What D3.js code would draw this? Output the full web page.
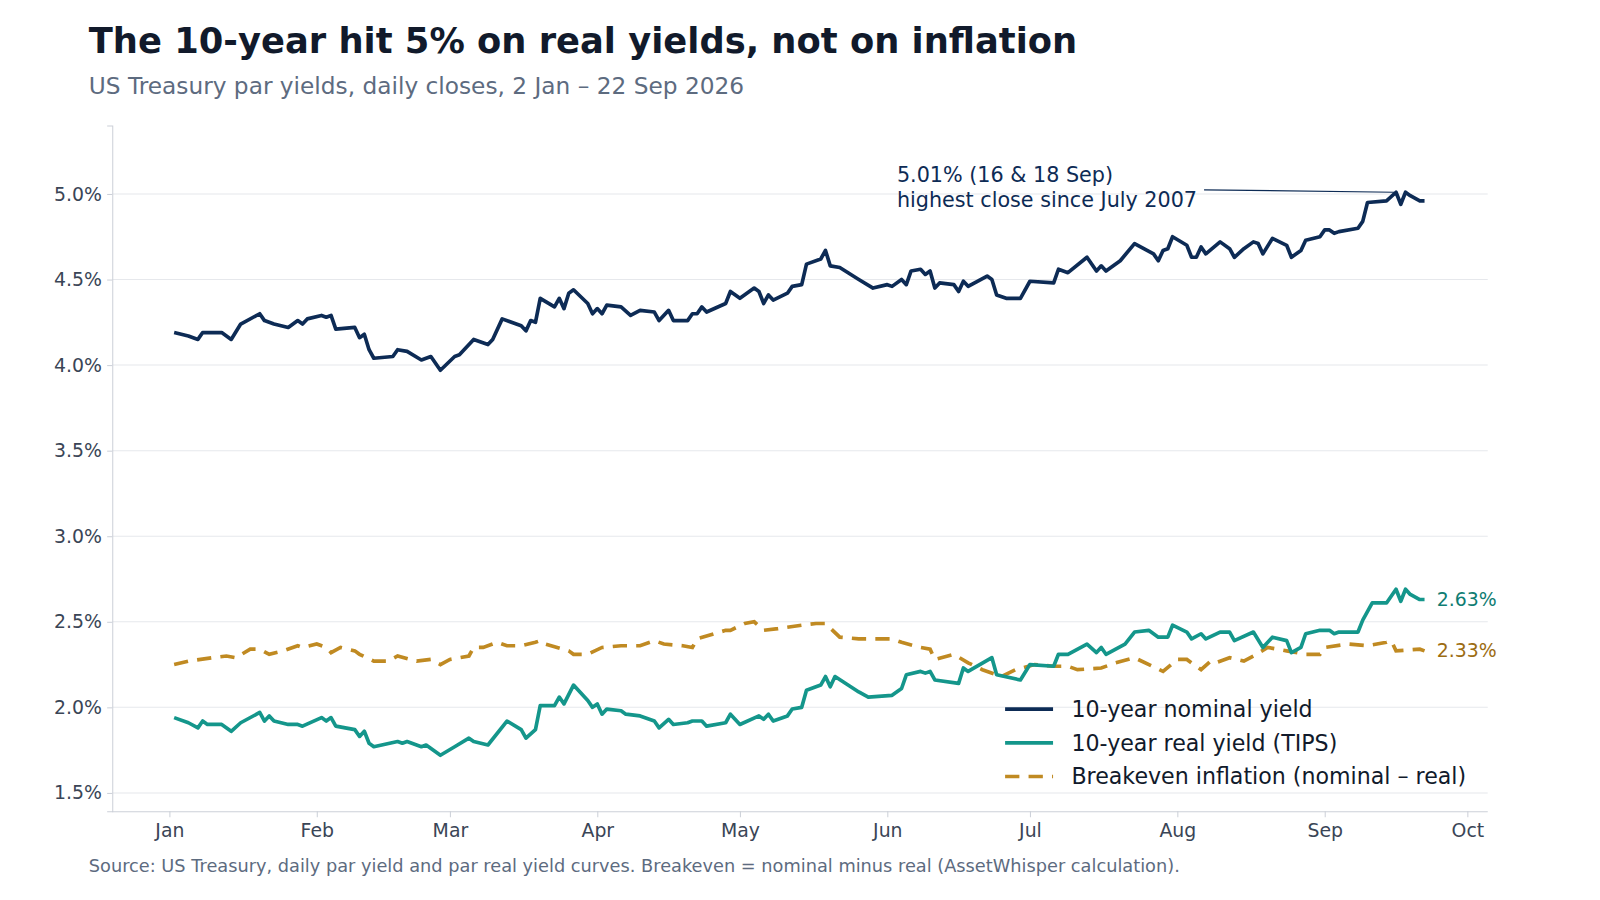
<!DOCTYPE html>
<html><head><meta charset="utf-8">
<script src="https://cdn.jsdelivr.net/npm/d3@7"></script>
<style>body{margin:0;background:#fff}svg{display:block}</style>
</head><body><svg id="c" width="1600" height="900"></svg>
<script>
// day offsets from 1 Jan 2026 and yields (%)
const nominalDays=[1,4,6,7,11,13,15,19,20,22,25,27,28,29,32,33,34,35,39,40,41,42,43,47,48,50,53,55,57,60,61,64,67,68,70,74,75,76,77,78,81,82,83,84,85,88,89,90,91,92,95,97,99,102,103,105,106,109,110,111,112,113,117,118,120,123,124,125,126,127,130,131,133,134,137,138,139,141,145,148,151,152,154,155,156,158,159,160,161,162,165,166,167,168,172,173,174,176,179,181,186,187,189,193,195,196,197,200,203,207,208,209,210,211,214,215,216,217,218,221,223,224,226,228,229,230,232,235,236,238,239,242,243,244,245,246,250,251,252,256,258,259,260,261,263,264];
const nominalVals=[4.19,4.17,4.15,4.19,4.19,4.15,4.24,4.30,4.26,4.24,4.22,4.26,4.24,4.27,4.29,4.28,4.29,4.21,4.22,4.16,4.18,4.09,4.04,4.05,4.09,4.08,4.03,4.05,3.97,4.05,4.06,4.15,4.12,4.15,4.27,4.23,4.20,4.26,4.25,4.39,4.34,4.39,4.33,4.42,4.44,4.36,4.30,4.33,4.30,4.35,4.34,4.29,4.32,4.31,4.26,4.32,4.26,4.26,4.30,4.30,4.34,4.31,4.36,4.43,4.39,4.45,4.43,4.36,4.41,4.38,4.42,4.46,4.47,4.59,4.62,4.67,4.58,4.57,4.50,4.45,4.47,4.46,4.50,4.47,4.55,4.56,4.53,4.55,4.45,4.48,4.47,4.43,4.49,4.46,4.52,4.50,4.41,4.39,4.39,4.49,4.48,4.56,4.54,4.63,4.55,4.58,4.55,4.61,4.71,4.65,4.61,4.67,4.68,4.75,4.70,4.63,4.63,4.69,4.65,4.72,4.68,4.63,4.68,4.72,4.71,4.65,4.74,4.70,4.63,4.67,4.73,4.75,4.79,4.79,4.77,4.78,4.80,4.84,4.95,4.96,5.01,4.94,5.01,4.99,4.96,4.96];
const realDays=[1,4,6,7,8,11,13,15,19,20,21,22,25,27,28,32,33,34,35,37,39,40,41,42,43,48,49,50,53,54,57,60,63,64,67,71,74,75,77,78,81,82,83,85,88,89,90,91,92,95,96,99,102,103,105,106,109,110,112,113,117,118,120,124,125,126,127,130,131,133,134,137,138,139,140,145,147,152,154,155,158,159,160,161,166,167,168,173,174,179,181,186,187,189,193,195,196,197,201,203,206,208,210,211,214,215,217,218,221,223,224,228,230,232,235,236,238,239,242,244,245,246,250,251,253,256,258,259,260,261,263,264];
const realVals=[1.94,1.91,1.88,1.92,1.90,1.90,1.86,1.91,1.97,1.92,1.95,1.92,1.90,1.90,1.89,1.94,1.92,1.94,1.89,1.88,1.87,1.83,1.86,1.79,1.77,1.80,1.79,1.80,1.77,1.78,1.72,1.77,1.82,1.80,1.78,1.92,1.87,1.82,1.87,2.01,2.01,2.06,2.02,2.13,2.04,2.00,2.02,1.96,1.99,1.98,1.96,1.95,1.92,1.88,1.93,1.90,1.91,1.92,1.92,1.89,1.91,1.96,1.90,1.95,1.93,1.96,1.92,1.95,1.99,2.00,2.10,2.13,2.18,2.12,2.18,2.09,2.06,2.07,2.11,2.19,2.21,2.20,2.21,2.16,2.14,2.23,2.21,2.29,2.19,2.16,2.25,2.24,2.31,2.31,2.37,2.32,2.35,2.31,2.37,2.44,2.45,2.41,2.41,2.48,2.44,2.40,2.43,2.40,2.44,2.44,2.39,2.44,2.35,2.41,2.39,2.32,2.35,2.43,2.45,2.45,2.43,2.44,2.44,2.51,2.61,2.61,2.69,2.62,2.69,2.66,2.63,2.63];
const beDays=[1,4,9,12,14,17,19,21,24,27,28,31,33,34,36,39,40,43,46,48,52,55,57,59,63,64,66,69,71,74,77,78,79,84,85,88,91,95,99,102,104,108,110,111,117,118,121,123,125,128,133,136,137,138,141,145,149,152,154,158,160,161,165,168,171,175,178,182,186,189,191,196,199,203,209,212,214,217,219,220,223,226,228,231,235,239,242,243,248,252,256,257,258,263,264];
const beVals=[2.25,2.27,2.29,2.30,2.29,2.34,2.34,2.31,2.33,2.36,2.35,2.37,2.35,2.32,2.35,2.33,2.31,2.27,2.27,2.30,2.27,2.28,2.25,2.28,2.30,2.35,2.35,2.38,2.36,2.36,2.38,2.39,2.37,2.33,2.31,2.31,2.35,2.36,2.36,2.39,2.37,2.36,2.35,2.40,2.45,2.45,2.49,2.50,2.45,2.46,2.48,2.49,2.49,2.49,2.41,2.40,2.40,2.40,2.38,2.35,2.34,2.28,2.31,2.26,2.22,2.18,2.22,2.25,2.24,2.24,2.22,2.23,2.26,2.29,2.21,2.28,2.28,2.22,2.27,2.26,2.29,2.27,2.30,2.35,2.33,2.31,2.31,2.35,2.37,2.36,2.38,2.39,2.33,2.34,2.33];
const yTicks=[1.5,2.0,2.5,3.0,3.5,4.0,4.5,5.0];
const monthLabels=["Jan","Feb","Mar","Apr","May","Jun","Jul","Aug","Sep","Oct"];

const C={nom:"#0d2b55",real:"#14968b",be:"#c08a22"};
const FONT="'DejaVu Sans', sans-serif";
const svg=d3.select("#c").append("g").attr("transform","scale(1.0204)");
const base=new Date(2026,0,1);
const toDate=d=>d3.timeDay.offset(base,d);
const x=d3.scaleTime().domain([base,new Date(2026,9,1)]).range([166,1438]);
const y=d3.scaleLinear().domain([1.393,5.40]).range([795,123]);
const L=110,R=1458;

svg.append("text").attr("x",87).attr("y",52).attr("font-family",FONT).attr("font-weight",700)
 .attr("font-size",34.6).attr("fill","#111a2b").text("The 10-year hit 5% on real yields, not on inflation");
svg.append("text").attr("x",87).attr("y",92).attr("font-family",FONT)
 .attr("font-size",22.8).attr("fill","#5d6b7f").text("US Treasury par yields, daily closes, 2 Jan – 22 Sep 2026");

svg.append("g").selectAll("line").data(yTicks).join("line")
 .attr("x1",L).attr("x2",R).attr("y1",d=>y(d)).attr("y2",d=>y(d)).attr("stroke","#e6e8ec");
const ya=svg.append("g").attr("transform",`translate(${L},0)`)
 .call(d3.axisLeft(y).tickValues(yTicks).tickFormat(d=>d.toFixed(1)+"%").tickSizeOuter(0).tickSize(5));
ya.select(".domain").attr("stroke","#ccd0d8");
ya.selectAll(".tick line").attr("stroke","#ccd0d8");
ya.selectAll("text").attr("font-family",FONT).attr("font-size",18.5).attr("fill","#3a4556").attr("dx",-2);
const xt=monthLabels.map((m,i)=>new Date(2026,i,1));
const xa=svg.append("g").attr("transform","translate(0,795)")
 .call(d3.axisBottom(x).tickValues(xt).tickFormat((d,i)=>monthLabels[i]).tickSizeOuter(0).tickSize(6));
xa.select(".domain").attr("d",`M${L},0.5H${R}`).attr("stroke","#ccd0d8");
xa.selectAll(".tick line").attr("stroke","#ccd0d8");
xa.selectAll("text").attr("font-family",FONT).attr("font-size",18.5).attr("fill","#3a4556").attr("dy","0.9em");

const line=d3.line().x(d=>x(toDate(d[0]))).y(d=>y(d[1])).curve(d3.curveLinear);
const zip=(a,b)=>a.map((d,i)=>[d,b[i]]);
svg.append("path").datum(zip(beDays,beVals)).attr("d",line).attr("fill","none")
 .attr("stroke",C.be).attr("stroke-width",3.6).attr("stroke-dasharray","14,9");
svg.append("path").datum(zip(realDays,realVals)).attr("d",line).attr("fill","none")
 .attr("stroke",C.real).attr("stroke-width",3.6).attr("stroke-linejoin","round");
svg.append("path").datum(zip(nominalDays,nominalVals)).attr("d",line).attr("fill","none")
 .attr("stroke",C.nom).attr("stroke-width",3.6).attr("stroke-linejoin","round");

const lastR=realVals[realVals.length-1], lastB=beVals[beVals.length-1];
svg.append("text").attr("x",1408).attr("y",y(lastR)).attr("dy","0.35em").attr("font-family",FONT)
 .attr("font-size",18.5).attr("fill","#0f7d73").text(lastR.toFixed(2)+"%");
svg.append("text").attr("x",1408).attr("y",y(lastB)).attr("dy","0.35em").attr("font-family",FONT)
 .attr("font-size",18.5).attr("fill","#9c6c12").text(lastB.toFixed(2)+"%");

svg.append("line").attr("x1",1180).attr("y1",186).attr("x2",x(toDate(258))-2).attr("y2",y(5.01))
 .attr("stroke",C.nom).attr("stroke-width",1.2);
const ann=svg.append("text").attr("font-family",FONT).attr("font-size",20.3).attr("fill","#0d2b55");
ann.append("tspan").attr("x",879).attr("y",178).text("5.01% (16 & 18 Sep)");
ann.append("tspan").attr("x",879).attr("y",203).text("highest close since July 2007");

const leg=[["10-year nominal yield",C.nom,null],["10-year real yield (TIPS)",C.real,null],["Breakeven inflation (nominal – real)",C.be,"14,9"]];
leg.forEach((l,i)=>{
 const yy=695+i*33;
 svg.append("line").attr("x1",985).attr("x2",1032).attr("y1",yy).attr("y2",yy).attr("stroke",l[1])
  .attr("stroke-width",3.6).attr("stroke-dasharray",l[2]);
 svg.append("text").attr("x",1050).attr("y",yy).attr("dy","0.35em").attr("font-family",FONT)
  .attr("font-size",21.7).attr("fill","#111a2b").text(l[0]);
});

svg.append("text").attr("x",87).attr("y",855).attr("font-family",FONT).attr("font-size",17.4)
 .attr("fill","#5d6b7f").text("Source: US Treasury, daily par yield and par real yield curves. Breakeven = nominal minus real (AssetWhisper calculation).");
</script></body></html>
